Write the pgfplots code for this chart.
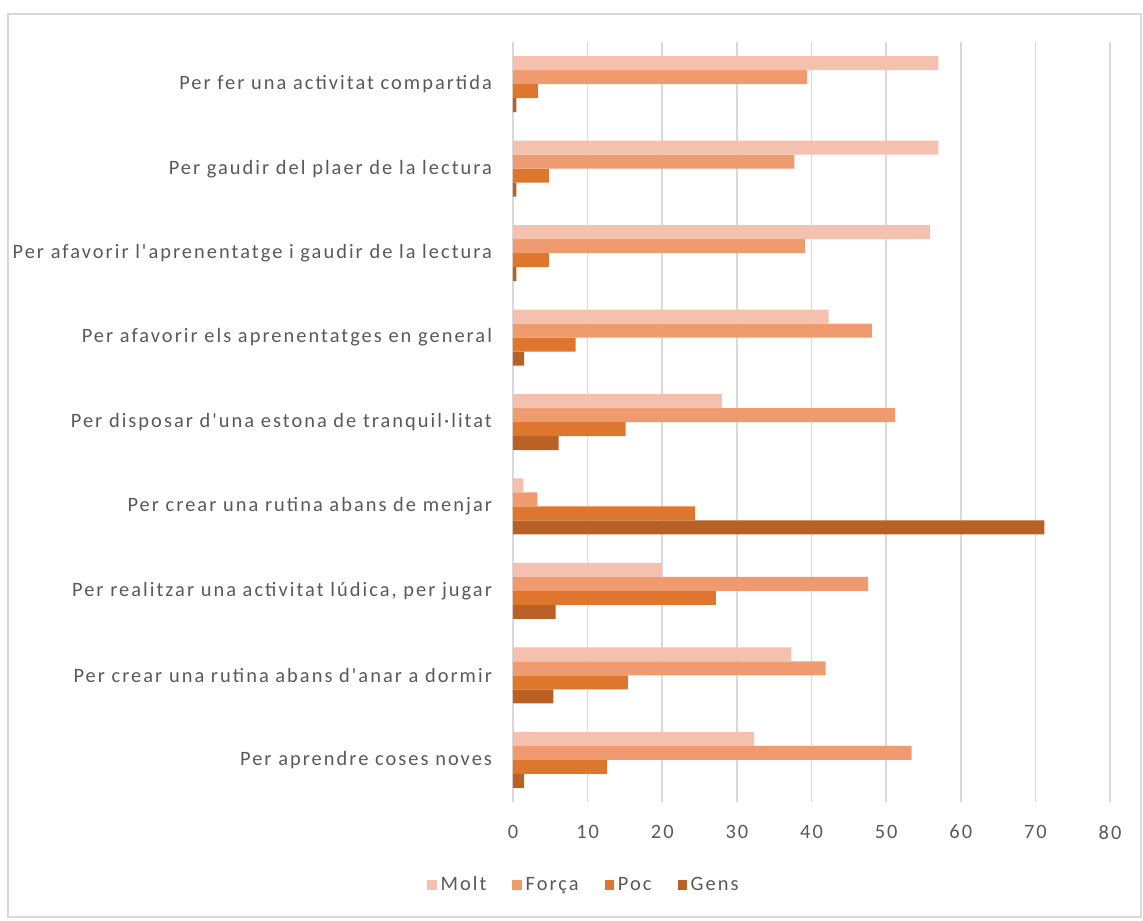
\documentclass[border=0pt]{standalone}
\usepackage{fontspec}
\setmainfont{Carlito}[LetterSpace=10, Ligatures=TeXOff]
\usepackage{pgfplots}
\pgfplotsset{compat=1.18}
\definecolor{cMolt}{HTML}{F4C1AE}
\definecolor{cForca}{HTML}{F09A70}
\definecolor{cPoc}{HTML}{DF762E}
\definecolor{cGens}{HTML}{B96024}
\definecolor{txt}{HTML}{595959}
\definecolor{gridc}{HTML}{D9D9D9}
\begin{document}
\begin{tikzpicture}
\path (-256.5pt,-59pt) rectangle (315pt,401pt);
\draw[gridc, line width=0.8pt] (-252.5pt,-57.5pt) rectangle (314pt,394pt);
\begin{axis}[
  at={(0pt,0pt)}, anchor=south west,
  width=298.5pt, height=380pt, scale only axis,
  xmin=0, xmax=80, xtick={0,10,...,80},
  ymin=-0.5, ymax=8.5, y dir=reverse,
  ytick={0,...,8},
  yticklabels={Per fer una activitat compartida,
    Per gaudir del plaer de la lectura,
    Per afavorir l'aprenentatge i gaudir de la lectura,
    Per afavorir els aprenentatges en general,
    Per disposar d'una estona de tranquil·litat,
    Per crear una rutina abans de menjar,
    {Per realitzar una activitat lúdica, per jugar},
    Per crear una rutina abans d'anar a dormir,
    Per aprendre coses noves},
  axis line style={draw=none},
  major tick length=0pt,
  xmajorgrids, grid style={gridc, line width=0.8pt},
  tick label style={font=\fontsize{10.2}{12}\selectfont, text=txt},
  /pgf/number format/assume math mode=true,
  yticklabel style={xshift=-7pt},
  xticklabel style={yshift=-8pt},
  xbar=0pt, bar width=7pt,
  legend columns=4,
  reverse legend,
  legend style={at={(axis description cs:0.1206,-0.1092)}, anchor=center, draw=none,
    font=\fontsize{10.2}{12}\selectfont, text=txt,
    /tikz/every even column/.append style={column sep=11pt}},
  legend image code/.code={\fill[#1] (0pt,-2.3pt) rectangle (4.6pt,2.3pt);},
]
\addplot[fill=cGens, draw=none] coordinates {(0.45,0) (0.45,1) (0.45,2) (1.5,3) (6.1,4) (71.2,5) (5.7,6) (5.4,7) (1.5,8)};
\addplot[fill=cPoc, draw=none] coordinates {(3.35,0) (4.8,1) (4.8,2) (8.4,3) (15.1,4) (24.4,5) (27.2,6) (15.4,7) (12.6,8)};
\addplot[fill=cForca, draw=none] coordinates {(39.4,0) (37.7,1) (39.1,2) (48.1,3) (51.2,4) (3.25,5) (47.6,6) (41.9,7) (53.4,8)};
\addplot[fill=cMolt, draw=none] coordinates {(57.0,0) (57.0,1) (55.9,2) (42.3,3) (28.0,4) (1.4,5) (19.9,6) (37.3,7) (32.3,8)};
\legend{Gens, Poc, Força, Molt}
\end{axis}
\end{tikzpicture}
\end{document}
